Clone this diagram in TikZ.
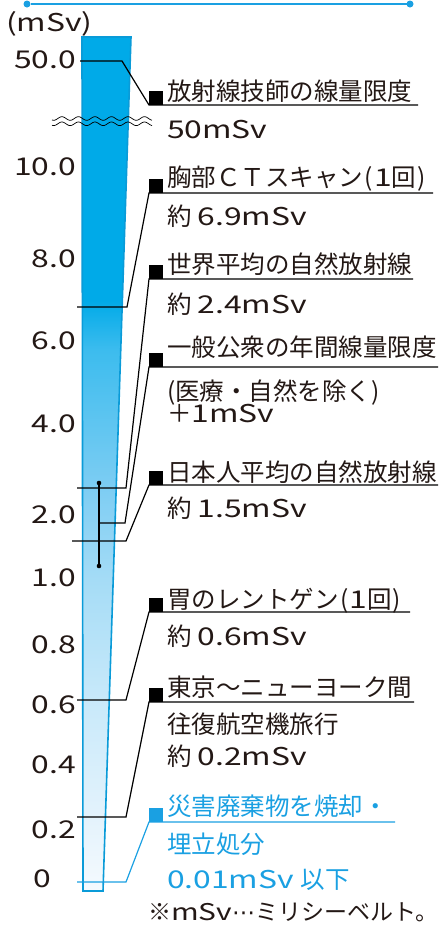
\documentclass[tikz,border=0pt]{standalone}
\usepackage{fontspec}
\setmainfont{Noto Sans CJK JP}
\newfontfamily\lat[FakeStretch=1.3]{Noto Sans CJK JP}
\newfontfamily\dv{DejaVu Sans}
\definecolor{txt}{HTML}{231815}
\definecolor{cy}{RGB}{26,160,226}
\definecolor{barborder}{RGB}{10,155,216}
\definecolor{bartop}{RGB}{0,170,232}
\definecolor{g0}{RGB}{245,250,254}
\definecolor{g1}{RGB}{228,243,252}
\definecolor{g2}{RGB}{200,233,250}
\definecolor{g3}{RGB}{165,220,246}
\definecolor{g4}{RGB}{125,205,243}
\definecolor{g5}{RGB}{60,188,238}
\pgfdeclareverticalshading{barshade}{100bp}{color(0bp)=(g0); color(25bp)=(g0); color(29.2bp)=(g1); color(36.2bp)=(g2); color(43.2bp)=(g3); color(48.6bp)=(g4); color(56.7bp)=(g5); color(59.6bp)=(bartop); color(100bp)=(bartop)}
\begin{document}
\begin{tikzpicture}[x=1pt,y=-1pt,
  every node/.style={inner sep=0pt, outer sep=0pt, text=txt, font=\fontsize{24.5}{26}\selectfont},
  lbl/.style={anchor=base west},
  num/.style={anchor=base east, font=\fontsize{24.5}{26}\selectfont\lat},
  sq/.style={rectangle, fill=black, minimum size=14pt},
  conn/.style={draw=black, line width=1.2pt},
  bconn/.style={draw=cy, line width=1.2pt},
  enddot/.style={circle, fill=cy, minimum size=7pt},
  ebdot/.style={circle, fill=black, minimum size=4.6pt},
  wave/.style={draw=black, line width=0.7pt}
]
\useasboundingbox (0,0) rectangle (439,927);

% top line
\node[enddot] (d1) at (27,4) {};
\node[enddot] (d2) at (410,4) {};
\draw[cy, line width=1.5pt] (d1) -- (d2);

% bar
\shade[shading=barshade] (82,37) -- (131,37) -- (103,891) -- (83,891) -- cycle;
\draw[barborder, line width=1.6pt] (82,37) -- (131,37) -- (103,891) -- (83,891) -- cycle;

% wavy break
\draw[wave] plot[domain=52:152,samples=150] (\x,{118.5+1.8*sin(\x*21.8)});
\draw[wave] plot[domain=52:152,samples=150] (\x,{123.8+1.8*sin(\x*21.8)});

% axis labels
\node[anchor=base west, font=\fontsize{24.5}{26}\selectfont\lat] (unit) at (6,31) {(mSv)};
\node[num] (v50) at (76,68) {50.0};
\node[num] (v10) at (76,175) {10.0};
\node[num] (v8) at (76,267) {8.0};
\node[num] (v6) at (76,349) {6.0};
\node[num] (v4) at (76,432) {4.0};
\node[num] (v2) at (76,523) {2.0};
\node[num] (v1) at (76,586) {1.0};
\node[num] (v08) at (76,653) {0.8};
\node[num] (v06) at (76,713) {0.6};
\node[num] (v04) at (76,773) {0.4};
\node[num] (v02) at (76,838) {0.2};
\node[num, anchor=base west] (v0) at (33,887) {0};

% squares
\node[sq] (s1) at (156,98) {};
\node[sq] (s2) at (156,186) {};
\node[sq] (s3) at (156,272) {};
\node[sq] (s4) at (156,360) {};
\node[sq] (s5) at (156,478) {};
\node[sq] (s6) at (156,605) {};
\node[sq] (s7) at (156,695) {};
\node[sq, fill=cy] (s8) at (156,815) {};

% tick coordinates
\coordinate (t1a) at (80,61);  \coordinate (t1b) at (122,61);  \coordinate (u1) at (418,105);
\coordinate (t2a) at (77,307); \coordinate (t2b) at (127,307); \coordinate (u2) at (433,193);
\coordinate (t3a) at (77,488); \coordinate (t3b) at (126,488); \coordinate (u3) at (413,279);
\coordinate (t4b) at (125,523); \coordinate (u4) at (438,367);
\coordinate (t5a) at (72,541); \coordinate (t5b) at (126,541); \coordinate (u5) at (438,485);
\coordinate (t6a) at (77,700); \coordinate (t6b) at (126,700); \coordinate (u6) at (410,612);
\coordinate (t7a) at (77,817); \coordinate (t7b) at (126,817); \coordinate (u7) at (414,702);
\coordinate (t8a) at (77,882); \coordinate (t8b) at (126,882); \coordinate (u8) at (395,822);

% error bar
\node[ebdot] (eb1) at (99,483) {};
\node[ebdot] (eb2) at (99,566) {};
\coordinate (ebm) at (99,523);
\draw[conn] (eb1) -- (eb2);

% connectors
\draw[conn] (t1a) -- (t1b) -- (s1.south west) -- (u1);
\draw[conn] (t2a) -- (t2b) -- (s2.south west) -- (u2);
\draw[conn] (t3a) -- (t3b) -- (s3.south west) -- (u3);
\draw[conn] (ebm) -- (t4b) -- (s4.south west) -- (u4);
\draw[conn] (t5a) -- (t5b) -- (s5.south west) -- (u5);
\draw[conn] (t6a) -- (t6b) -- (s6.south west) -- (u6);
\draw[conn] (t7a) -- (t7b) -- (s7.south west) -- (u7);
\draw[bconn] (t8a) -- (t8b) -- (s8.south west) -- (u8);

% texts
\node[lbl] (n1) at (167,100.3) {放射線技師の線量限度};
\node[lbl] (n2) at (167,138) {\lat 50mSv};
\node[lbl] (n3) at (167,186.5) {胸部ＣＴスキャン\hspace{2pt}(\hspace{1pt}{\lat 1}回\hspace{1pt})};
\node[lbl] (n4) at (167,225) {約\hspace{6pt}{\lat 6.9mSv}};
\node[lbl] (n5) at (167,273.5) {世界平均の自然放射線};
\node[lbl] (n6) at (167,313) {約\hspace{6pt}{\lat 2.4mSv}};
\node[lbl] (n7) at (167,356.5) {一般公衆の年間線量限度};
\node[lbl] (n8) at (167,400) {(医療・自然を除く)};
\node[lbl] (n9) at (167,422) {＋{\lat 1mSv}};
\node[lbl] (n10) at (167,481.5) {日本人平均の自然放射線};
\node[lbl] (n11) at (167,517) {約\hspace{6pt}{\lat 1.5mSv}};
\node[lbl] (n12) at (167,608.5) {胃のレントゲン\hspace{2pt}(\hspace{1pt}{\lat 1}回\hspace{1pt})};
\node[lbl] (n13) at (167,645) {約\hspace{6pt}{\lat 0.6mSv}};
\node[lbl] (n14) at (167,696.5) {東京〜ニューヨーク間};
\node[lbl] (n15) at (167,733.5) {往復航空機旅行};
\node[lbl] (n16) at (167,765) {約\hspace{6pt}{\lat 0.2mSv}};
\node[lbl, text=cy] (n17) at (167,815.5) {災害廃棄物を焼却・};
\node[lbl, text=cy] (n18) at (167,853.5) {埋立処分};
\node[lbl, text=cy] (n19) at (167,888) {{\lat 0.01mSv}\hspace{7pt}以下};
\node[lbl, font=\fontsize{23}{25}\selectfont] (n20) at (148,920.5) {※{\lat mSv}{\dv ⋯}ミリシーベルト。};
\end{tikzpicture}
\end{document}
